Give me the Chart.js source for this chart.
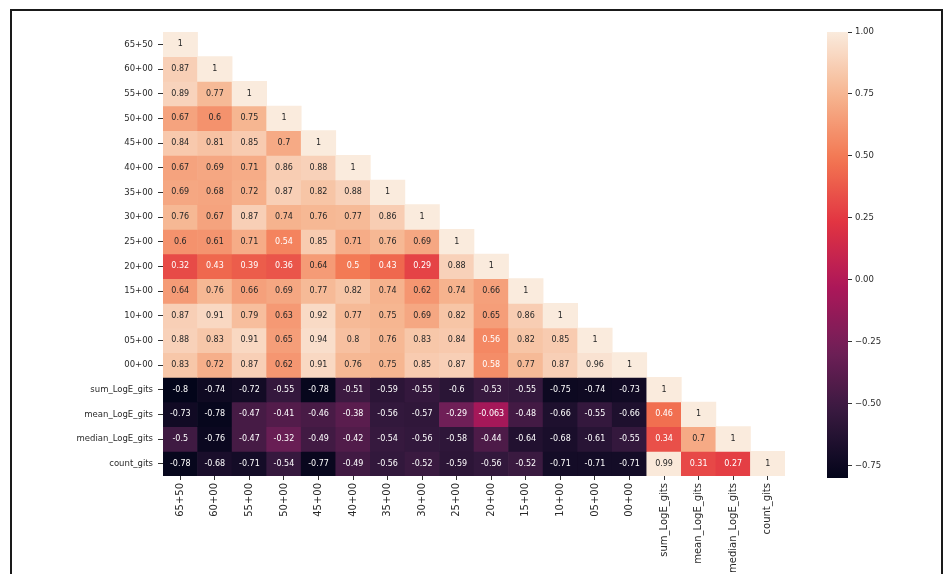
<!DOCTYPE html>
<html>
<head>
<meta charset="utf-8">
<script src="https://cdn.jsdelivr.net/npm/chart.js@4/dist/chart.umd.min.js"></script>
<style>
  html, body { margin: 0; padding: 0; background: #fff; width: 952px; height: 574px; overflow: hidden; }
  #frame { position: absolute; left: 10px; top: 9px; width: 933px; height: 620px; border: 2px solid #1a1a1a; box-sizing: border-box; }
  #heat { position: absolute; left: 0; top: 0; }
  #cbar { position: absolute; left: 800px; top: 0; }
</style>
</head>
<body>
<div id="frame"></div>
<canvas id="heat" width="952" height="574"></canvas>
<canvas id="cbar" width="152" height="574"></canvas>
<script>
// Variable names (rows top to bottom, columns left to right)
const names = ['65+50', '60+00', '55+00', '50+00', '45+00', '40+00', '35+00', '30+00', '25+00',
  '20+00', '15+00', '10+00', '05+00', '00+00', 'sum_LogE_gits', 'mean_LogE_gits', 'median_LogE_gits', 'count_gits'];

// Lower-triangular correlation rows (diagonal included)
const row_65_50 = [1];
const row_60_00 = [0.87, 1];
const row_55_00 = [0.89, 0.77, 1];
const row_50_00 = [0.67, 0.6, 0.75, 1];
const row_45_00 = [0.84, 0.81, 0.85, 0.7, 1];
const row_40_00 = [0.67, 0.69, 0.71, 0.86, 0.88, 1];
const row_35_00 = [0.69, 0.68, 0.72, 0.87, 0.82, 0.88, 1];
const row_30_00 = [0.76, 0.67, 0.87, 0.74, 0.76, 0.77, 0.86, 1];
const row_25_00 = [0.6, 0.61, 0.71, 0.54, 0.85, 0.71, 0.76, 0.69, 1];
const row_20_00 = [0.32, 0.43, 0.39, 0.36, 0.64, 0.5, 0.43, 0.29, 0.88, 1];
const row_15_00 = [0.64, 0.76, 0.66, 0.69, 0.77, 0.82, 0.74, 0.62, 0.74, 0.66, 1];
const row_10_00 = [0.87, 0.91, 0.79, 0.63, 0.92, 0.77, 0.75, 0.69, 0.82, 0.65, 0.86, 1];
const row_05_00 = [0.88, 0.83, 0.91, 0.65, 0.94, 0.8, 0.76, 0.83, 0.84, 0.56, 0.82, 0.85, 1];
const row_00_00 = [0.83, 0.72, 0.87, 0.62, 0.91, 0.76, 0.75, 0.85, 0.87, 0.58, 0.77, 0.87, 0.96, 1];
const row_sum = [-0.8, -0.74, -0.72, -0.55, -0.78, -0.51, -0.59, -0.55, -0.6, -0.53, -0.55, -0.75, -0.74, -0.73, 1];
const row_mean = [-0.73, -0.78, -0.47, -0.41, -0.46, -0.38, -0.56, -0.57, -0.29, -0.063, -0.48, -0.66, -0.55, -0.66, 0.46, 1];
const row_median = [-0.5, -0.76, -0.47, -0.32, -0.49, -0.42, -0.54, -0.56, -0.58, -0.44, -0.64, -0.68, -0.61, -0.55, 0.34, 0.7, 1];
const row_count = [-0.78, -0.68, -0.71, -0.54, -0.77, -0.49, -0.56, -0.52, -0.59, -0.56, -0.52, -0.71, -0.71, -0.71, 0.99, 0.31, 0.27, 1];

const rows = [row_65_50, row_60_00, row_55_00, row_50_00, row_45_00, row_40_00, row_35_00, row_30_00,
  row_25_00, row_20_00, row_15_00, row_10_00, row_05_00, row_00_00, row_sum, row_mean, row_median, row_count];

// Colour scale range and colourbar ticks
const vmin = -0.8;
const vmax = 1.0;
const cbarTicks = [-0.75, -0.5, -0.25, 0, 0.25, 0.5, 0.75, 1];

// "rocket" colour map anchors
const rocketStops = [
  [0.000, [3, 5, 26]],
  [0.143, [53, 25, 62]],
  [0.286, [112, 31, 87]],
  [0.429, [173, 23, 89]],
  [0.571, [225, 51, 66]],
  [0.714, [243, 118, 81]],
  [0.857, [246, 180, 143]],
  [1.000, [250, 235, 221]]
];

function rocket(t) {
  t = Math.max(0, Math.min(1, t));
  for (let k = 1; k < rocketStops.length; k++) {
    const [t1, c1] = rocketStops[k];
    const [t0, c0] = rocketStops[k - 1];
    if (t <= t1) {
      const f = (t - t0) / (t1 - t0);
      const c = c0.map((v, i) => Math.round(v + (c1[i] - v) * f));
      return `rgb(${c[0]},${c[1]},${c[2]})`;
    }
  }
  const c = rocketStops[rocketStops.length - 1][1];
  return `rgb(${c[0]},${c[1]},${c[2]})`;
}

const norm = v => (v - vmin) / (vmax - vmin);
const fmtCell = v => String(Number(v.toPrecision(2)));
const fmtTick = v => v.toFixed(2).replace('-', '\u2212');

const FONT = '"DejaVu Sans", "Liberation Sans", sans-serif';
const tickColor = '#2a2a2a';

// One floating-bar dataset per row; each cell spans [row, row + 1] on the y scale
const datasets = rows.map((vals, i) => ({
  label: names[i],
  data: names.map((_, j) => (j < vals.length ? [i, i + 1] : null)),
  backgroundColor: names.map((_, j) => (j < vals.length ? rocket(norm(vals[j])) : 'rgba(0,0,0,0)')),
  borderWidth: 0,
  grouped: false,
  barPercentage: 1,
  categoryPercentage: 1
}));

// Value annotations in every cell
const cellText = {
  id: 'cellText',
  afterDatasetsDraw(chart) {
    const { ctx, scales: { x, y } } = chart;
    ctx.save();
    ctx.font = `8px ${FONT}`;
    ctx.textAlign = 'center';
    ctx.textBaseline = 'middle';
    rows.forEach((vals, i) => vals.forEach((v, j) => {
      ctx.fillStyle = v > 0.585 ? '#262626' : '#ffffff';
      ctx.fillText(fmtCell(v), x.getPixelForValue(j), y.getPixelForValue(i + 0.5));
    }));
    ctx.restore();
  }
};

new Chart(document.getElementById('heat'), {
  type: 'bar',
  data: { labels: names, datasets },
  options: {
    responsive: false,
    animation: false,
    layout: { padding: { left: 0, top: 32, right: 167, bottom: 0 } },
    plugins: { legend: { display: false }, tooltip: { enabled: false } },
    scales: {
      x: {
        type: 'category',
        offset: true,
        grid: { offset: false, drawOnChartArea: false, drawTicks: true, tickLength: 4, color: '#333' },
        border: { display: false },
        ticks: { autoSkip: false, minRotation: 90, maxRotation: 90, padding: 3, color: tickColor, font: { family: FONT, size: 10 } },
        afterFit: s => { s.height = 98; }
      },
      y: {
        type: 'linear',
        min: 0,
        max: names.length,
        reverse: true,
        afterBuildTicks: s => { s.ticks = names.map((_, i) => ({ value: i + 0.5 })); },
        grid: { drawOnChartArea: false, drawTicks: true, tickLength: 5, color: '#333' },
        border: { display: false },
        ticks: { callback: (v, idx) => names[idx], padding: 5, color: tickColor, font: { family: FONT, size: 8.5 } },
        afterFit: s => { s.width = 163; }
      }
    }
  },
  plugins: [cellText]
});

// Colourbar: one floating bar from vmin to vmax filled with the colour map
function cbarFill(c) {
  const chart = c.chart;
  if (!chart.chartArea) return 'rgba(0,0,0,0)';
  const y = chart.scales.y;
  const g = chart.ctx.createLinearGradient(0, y.getPixelForValue(vmin), 0, y.getPixelForValue(vmax));
  for (let k = 0; k <= 40; k++) {
    const t = k / 40;
    g.addColorStop(t, rocket(t));
  }
  return g;
}

new Chart(document.getElementById('cbar'), {
  type: 'bar',
  data: {
    labels: [''],
    datasets: [{ data: [[vmin, vmax]], backgroundColor: cbarFill, borderWidth: 0, barPercentage: 1, categoryPercentage: 1 }]
  },
  options: {
    responsive: false,
    animation: false,
    layout: { padding: { left: 27, top: 32, right: 0, bottom: 96 } },
    plugins: { legend: { display: false }, tooltip: { enabled: false } },
    scales: {
      x: { display: false },
      y: {
        position: 'right',
        min: vmin,
        max: vmax,
        afterBuildTicks: s => { s.ticks = cbarTicks.map(v => ({ value: v })); },
        grid: { drawOnChartArea: false, drawTicks: true, tickLength: 4, color: '#333' },
        border: { display: false },
        ticks: { callback: v => fmtTick(v), padding: 3, color: tickColor, font: { family: FONT, size: 8.5 } },
        afterFit: s => { s.width = 104; }
      }
    }
  }
});
</script>
</body>
</html>
